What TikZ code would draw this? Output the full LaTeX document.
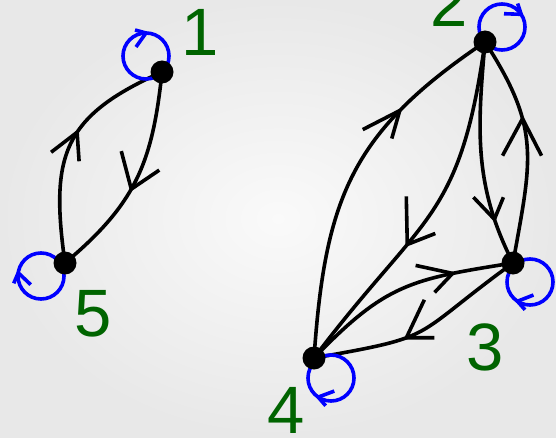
\documentclass[tikz,border=0pt]{standalone}
\usepackage{fontspec}
\setmainfont{Liberation Sans}
\usetikzlibrary{decorations.markings,calc}
\definecolor{lblgreen}{RGB}{0,100,0}
\pgfdeclarelayer{bg}
\pgfsetlayers{bg,main}
\tikzset{
  vtx/.style={circle,fill=black,inner sep=0pt,minimum size=23pt},
  lbl/.style={text=lblgreen,font=\fontsize{67}{67}\selectfont,inner sep=0pt},
  edge/.style={line width=3.6pt,black},
  selfloop/.style={line width=3.6pt,blue},
  chev/.style n args={5}{postaction={decorate},decoration={markings,
    mark=at position #1 with {\pgftransformresetnontranslations
      \draw[line width=3.6pt,black,line join=round]
      (#2,#3) -- (0,0) -- (#4,#5);}}},
  lchev/.style={postaction={decorate},decoration={markings,
    mark=at position #1 with {\draw[line width=3.6pt,blue,line join=round]
      (-11,3) -- (0,0) -- (-10,-14);}}},
}
\begin{document}
\begin{tikzpicture}[x=1pt,y=1pt]
\useasboundingbox (0,0) rectangle (556,437);
% vertices
\node[vtx] (n1) at (162,365) {};
\node[vtx] (n5) at (65,174) {};
\node[vtx] (n2) at (485,395) {};
\node[vtx] (n3) at (513,174) {};
\node[vtx] (n4) at (314,79) {};
% labels
\node[lbl] (t1) at (200.5,405) {1};
\node[lbl] (t2) at (449,434) {2};
\node[lbl] (t3) at (485,89.5) {3};
\node[lbl] (t4) at (286,27) {4};
\node[lbl] (t5) at (93.5,123) {5};
\begin{pgfonlayer}{bg}
\shade[inner color=white!98!black,outer color=white!91!black] (0,0) rectangle (556,437);
% edges
\draw[edge,chev={0.55}{-10}{38}{28}{19}] (n1.center) to[out=264,in=40,looseness=1.1] (n5.center);
\draw[edge,chev={0.56}{-26}{-20}{2}{-29}] (n5.center) to[out=98,in=204,looseness=1.3] (n1.center);
\draw[edge,chev={0.71}{-37}{-19}{-8}{-28}] (n4.center) to[out=86,in=214,looseness=1.15] (n2.center);
\draw[edge,chev={0.6}{-1}{48}{28}{11}] (n2.center) to[out=262,in=53,looseness=1.3] (n4.center);
\draw[edge,chev={0.79}{-21}{22}{9}{22}] (n2.center) to[out=265,in=117] (n3.center);
\draw[edge,chev={0.63}{-20}{-37}{19}{-37}] (n3.center) to[out=80,in=303,looseness=1.2] (n2.center);
\draw[edge,chev={0.73}{-37}{8}{-18}{-19}] (n4.center) to[out=46,in=189,looseness=1.2] (n3.center);
\draw[edge,chev={0.58}{18}{38}{28}{0}] (n3.center) to[out=216,in=10,looseness=1.5] (n4.center);
% self loops
\draw[selfloop,lchev=0.75] ($(n1)+(7,16)$) arc[start angle=0,end angle=-360,radius=23];
\draw[selfloop,lchev=0.522] ($(n5)+(-1,-13)$) arc[start angle=0,end angle=-360,radius=23];
\draw[selfloop,lchev=0.907] ($(n2)+(40,15)$) arc[start angle=0,end angle=-360,radius=23];
\draw[selfloop,lchev=0.342] ($(n3)+(40,-19)$) arc[start angle=0,end angle=-360,radius=23];
\draw[selfloop,lchev=0.344] ($(n4)+(40,-20)$) arc[start angle=0,end angle=-360,radius=23];
\end{pgfonlayer}
\end{tikzpicture}
\end{document}
